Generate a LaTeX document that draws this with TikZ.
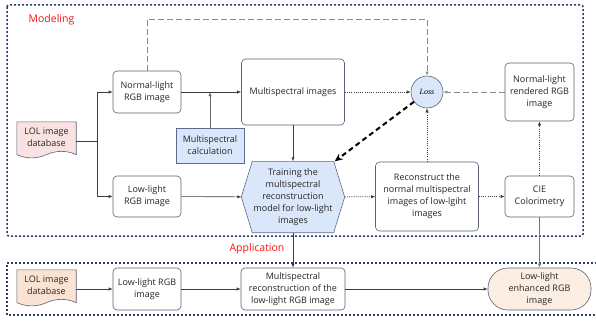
\documentclass[tikz,border=0pt]{standalone}
\usepackage{fontspec}
\setmainfont{Open Sans}
\newfontfamily\lossfont{Liberation Serif}
\usetikzlibrary{arrows.meta,calc}

\definecolor{boxline}{HTML}{5A6275}
\definecolor{framec}{HTML}{2E3B6B}
\definecolor{connc}{HTML}{3C3C3C}
\definecolor{dashc}{HTML}{8A8A8A}
\definecolor{bluefill}{HTML}{DAE6FA}
\definecolor{blueline}{HTML}{5B6B8C}
\definecolor{pinkfill}{HTML}{FBE2E2}
\definecolor{peachfill}{HTML}{FBE3D3}
\definecolor{lightpeach}{HTML}{FDEEE4}
\definecolor{titlered}{HTML}{FF1010}

\tikzset{
  txt/.style={font=\fontsize{9}{12}\selectfont, align=center, text=black!85},
  box/.style={txt, draw=boxline, line width=0.6pt, rounded corners=4pt, fill=white, inner sep=1pt},
  bluebox/.style={txt, draw=blueline, line width=0.6pt, fill=bluefill, inner sep=1pt},
  plainnode/.style={txt, inner sep=1pt},
  framebox/.style={draw=framec, line width=1.5pt, dash pattern=on 2pt off 2pt},
  title/.style={font=\fontsize{10.5}{12}\selectfont, text=titlered},
  tip/.style={-{Latex[length=4pt,width=3.2pt]}},
  arr/.style={tip, draw=connc, line width=0.6pt},
  greyarr/.style={tip, draw=black!55, line width=0.8pt},
  dotarr/.style={tip, draw=connc, line width=0.6pt, dash pattern=on 1pt off 1.2pt},
  dasharr/.style={tip, draw=dashc, line width=0.9pt, dash pattern=on 6pt off 3pt},
  bigarr/.style={-{Stealth[length=8pt,width=7pt]}, draw=black, line width=2pt, dash pattern=on 5pt off 3.5pt},
}

% document shape with a wavy bottom edge, drawn round a node
\newcommand{\docshape}[2]{%
  \draw[draw=boxline, line width=0.6pt, fill=#2]
    (#1.north west) -- (#1.north east) -- ($(#1.south east)+(0,2.4)$)
    .. controls ($(#1.south east)+(-9.83,-1.9)$) and ($(#1.south east)+(-19.67,-1.9)$) .. ($(#1.south)+(0,2.4)$)
    .. controls ($(#1.south)+(-9.83,6.8)$) and ($(#1.south west)+(9.83,6.8)$) .. ($(#1.south west)+(0,2.4)$)
    -- cycle;
}
% hexagon with pointed left and right ends, drawn round a node
\newcommand{\hexshape}[1]{%
  \draw[draw=blueline, line width=0.6pt, fill=bluefill]
    (#1.west) -- ($(#1.north west)+(11,0)$) -- ($(#1.north east)+(-11,0)$) -- (#1.east)
    -- ($(#1.south east)+(-11,0)$) -- ($(#1.south west)+(11,0)$) -- cycle;
}

\begin{document}
\begin{tikzpicture}[x=1pt,y=-1pt]
\useasboundingbox (0,0) rectangle (596,321);
\fill[white] (0,0) rectangle (596,321);

% the two stage frames
\draw[framebox, rounded corners=2pt] (7,5) rectangle (583,236);
\draw[framebox] (597,263) -- (7,263) -- (7,315) -- (597,315);

\node[title] (modeling) at (51.5,20) {Modeling};
\node[title] (application) at (257,249) {Application};

% ---- modeling stage ----
\node[plainnode, minimum width=59pt, minimum height=30pt] (lol1) at (46.5,137) {LOL image\\database};
\docshape{lol1}{pinkfill}
\node[plainnode, minimum width=59pt, minimum height=30pt] at (46.5,137) {LOL image\\database};

\node[box, minimum width=68pt, minimum height=42pt] (normal) at (147,92) {Normal-light\\RGB image};
\node[box, minimum width=103pt, minimum height=66pt] (msimg) at (293,92) {Multispectral images};
\node[bluebox, minimum width=68pt, minimum height=35pt] (mscalc) at (210,145.5) {Multispectral\\calculation};
\node[circle, draw=boxline, line width=0.6pt, fill=bluefill, minimum size=32pt, inner sep=0pt,
      font=\lossfont\itshape\fontsize{8}{9}\selectfont] (loss) at (427,92) {Loss};
\node[box, minimum width=69pt, minimum height=58pt] (rendered) at (539.5,92) {Normal-light\\rendered RGB\\image};
\node[box, minimum width=68pt, minimum height=41pt] (lowtop) at (147,196.5) {Low-light\\RGB image};

\node[plainnode, minimum width=103pt, minimum height=71pt] (train) at (293,197) {};
\hexshape{train}
\node[plainnode] at (293,197) {Training the\\multispectral\\reconstruction\\model for low-light\\images};
\coordinate (trainNE) at ($(train.north east)+(-10,0)$);

\node[box, minimum width=103pt, minimum height=69pt] (recon) at (427,196.5) {Reconstruct the\\normal multispectral\\images of low-lgiht\\images};
\node[box, minimum width=69pt, minimum height=41pt] (cie) at (539.5,196.5) {CIE\\Colorimetry};

% ---- application stage ----
\node[plainnode, minimum width=59pt, minimum height=30pt] (lol2) at (46.5,285) {LOL image\\database};
\docshape{lol2}{peachfill}
\node[plainnode, minimum width=59pt, minimum height=30pt] at (46.5,285) {LOL image\\database};

\node[box, minimum width=68pt, minimum height=42pt] (lowbot) at (147,289) {Low-light RGB\\image};
\node[box, minimum width=104pt, minimum height=42pt] (msrec) at (293,289) {Multispectral\\reconstruction of the\\low-light RGB image};
\node[box, fill=lightpeach, rounded corners=20pt, minimum width=103pt, minimum height=42pt] (enh) at (539.5,289) {Low-light\\enhanced RGB\\image};

% ---- connectors ----
\coordinate (split) at ($(lol1.east)+(21,4.5)$);
\draw[connc, line width=0.6pt] ($(lol1.east)+(0,4.5)$) -- (split);
\draw[arr] (split) |- (normal.west);
\draw[arr] (split) |- (lowtop.west);
\draw[arr] (normal) -- (msimg);
\draw[arr, draw=black!60] (mscalc.north) -- (mscalc.north |- normal.east);
\draw[arr] (msimg) -- (train.north -| msimg);
\draw[dotarr] (msimg) -- (loss);
\coordinate (dashtop) at (147,19);
\draw[dasharr] (normal.north) -- (dashtop) -| (loss.north);
\draw[dasharr] (rendered) -- (loss);
\draw[bigarr] (loss) -- (trainNE);
\draw[arr] (lowtop) -- (train);
\draw[dotarr] (train) -- (recon);
\draw[dotarr] (recon) -- (loss);
\draw[dotarr] (recon) -- (cie);
\draw[dotarr] (cie) -- (rendered);
\draw[arr] (train) -- (msrec);
\draw[greyarr] (cie) -- (enh);

\draw[arr] (lol2.east |- lowbot.west) -- (lowbot);
\draw[arr] (lowbot) -- (msrec);
\draw[arr] (msrec) -- (enh);
\end{tikzpicture}
\end{document}
